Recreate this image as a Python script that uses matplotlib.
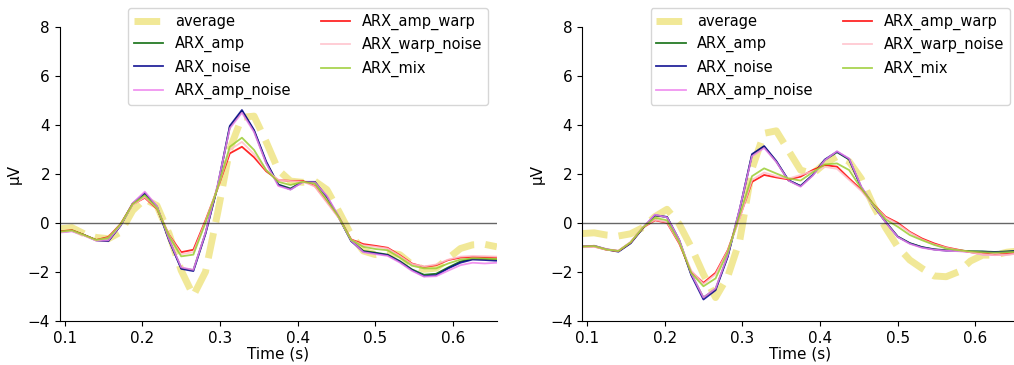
import numpy as np
import matplotlib
matplotlib.use('Agg')
import matplotlib.pyplot as plt

# sample times (64 Hz grid)
t = np.arange(6, 43) / 64

names = ['average', 'ARX_amp', 'ARX_noise', 'ARX_amp_noise',
         'ARX_amp_warp', 'ARX_warp_noise', 'ARX_mix']
colors = ['khaki', 'darkgreen', 'darkblue', 'violet', 'red', 'pink', 'yellowgreen']

# left panel
left_average = [-0.25, -0.2, -0.45, -0.6, -0.65, -0.38, 0.5, 0.97, 0.7, -0.45, -1.95, -2.97,
                -2.0, 0.4, 3.0, 4.3, 4.35, 3.3, 2.15, 1.7, 1.65, 1.7, 1.35, 0.45, -0.5, -1.15,
                -1.3, -1.22, -1.3, -1.7, -1.9, -1.85, -1.45, -1.05, -0.9, -0.88, -0.98]
left_amp = [-0.37, -0.32, -0.5, -0.71, -0.73, -0.1, 0.78, 1.18, 0.66, -0.7, -1.85, -1.93,
            -0.42, 1.48, 3.9, 4.55, 3.75, 2.45, 1.56, 1.4, 1.67, 1.66, 1.05, 0.2, -0.73, -1.15,
            -1.22, -1.3, -1.56, -1.9, -2.12, -2.08, -1.82, -1.58, -1.47, -1.48, -1.5]
left_noise = [-0.38, -0.33, -0.5, -0.72, -0.75, -0.12, 0.78, 1.22, 0.65, -0.72, -1.88, -1.97,
              -0.45, 1.5, 3.95, 4.6, 3.78, 2.5, 1.54, 1.36, 1.67, 1.67, 1.06, 0.2, -0.75, -1.18,
              -1.25, -1.32, -1.59, -1.93, -2.18, -2.14, -1.86, -1.63, -1.5, -1.52, -1.55]
left_amp_noise = [-0.4, -0.35, -0.52, -0.73, -0.72, -0.1, 0.8, 1.27, 0.68, -0.68, -1.82, -1.92,
                  -0.4, 1.55, 3.85, 4.49, 3.7, 2.42, 1.5, 1.35, 1.65, 1.65, 1.1, 0.25, -0.72, -1.2,
                  -1.28, -1.35, -1.62, -1.96, -2.2, -2.18, -1.95, -1.73, -1.63, -1.66, -1.63]
left_amp_warp = [-0.35, -0.3, -0.5, -0.7, -0.58, -0.05, 0.75, 1.02, 0.57, -0.5, -1.2, -1.1,
                 0.1, 1.4, 2.83, 3.1, 2.67, 2.1, 1.74, 1.71, 1.71, 1.5, 0.86, 0.2, -0.68, -0.87,
                 -0.94, -1.02, -1.32, -1.66, -1.8, -1.73, -1.52, -1.42, -1.39, -1.4, -1.42]
left_warp_noise = [-0.38, -0.33, -0.52, -0.72, -0.62, -0.08, 0.73, 1.05, 0.6, -0.52, -1.28, -1.2,
                   0.05, 1.42, 2.97, 3.3, 2.8, 2.15, 1.75, 1.7, 1.68, 1.48, 0.82, 0.18, -0.7, -0.92,
                   -0.98, -1.05, -1.35, -1.68, -1.78, -1.7, -1.5, -1.38, -1.35, -1.36, -1.38]
left_mix = [-0.36, -0.31, -0.5, -0.7, -0.62, -0.06, 0.76, 1.12, 0.6, -0.55, -1.37, -1.3,
            0.0, 1.42, 3.1, 3.47, 2.97, 2.15, 1.67, 1.54, 1.67, 1.6, 0.93, 0.22, -0.7, -0.98,
            -1.07, -1.12, -1.42, -1.75, -1.86, -1.86, -1.66, -1.5, -1.45, -1.46, -1.48]

# right panel
right_average = [-0.44, -0.41, -0.5, -0.54, -0.45, -0.2, 0.25, 0.55, -0.05, -1.0, -2.1, -3.05,
                 -2.2, -0.7, 2.2, 3.65, 3.75, 2.95, 2.15, 2.0, 2.42, 2.7, 2.5, 1.8, 0.7, -0.2,
                 -0.98, -1.52, -1.86, -2.17, -2.2, -2.0, -1.56, -1.32, -1.32, -1.2, -1.15]
right_amp = [-0.97, -0.94, -1.08, -1.16, -0.82, -0.22, 0.3, 0.23, -0.7, -2.1, -3.05, -2.7,
             -1.36, 0.56, 2.76, 3.1, 2.5, 1.73, 1.5, 1.94, 2.56, 2.88, 2.58, 1.44, 0.7, 0.04,
             -0.56, -0.83, -0.99, -1.08, -1.12, -1.13, -1.16, -1.17, -1.19, -1.17, -1.14]
right_noise = [-0.98, -0.95, -1.09, -1.18, -0.84, -0.23, 0.31, 0.24, -0.71, -2.14, -3.13, -2.75,
               -1.39, 0.58, 2.8, 3.13, 2.52, 1.74, 1.5, 1.95, 2.58, 2.9, 2.6, 1.45, 0.7, 0.04,
               -0.57, -0.84, -1.0, -1.09, -1.14, -1.14, -1.18, -1.18, -1.2, -1.18, -1.15]
right_amp_noise = [-0.96, -0.94, -1.07, -1.15, -0.8, -0.2, 0.33, 0.22, -0.68, -2.08, -3.05, -2.68,
                   -1.33, 0.6, 2.72, 3.05, 2.48, 1.72, 1.47, 1.92, 2.55, 2.92, 2.62, 1.48, 0.72, 0.02,
                   -0.58, -0.86, -1.02, -1.1, -1.14, -1.16, -1.2, -1.3, -1.32, -1.3, -1.25]
right_amp_warp = [-0.98, -0.97, -1.1, -1.15, -0.8, -0.2, 0.1, 0.0, -0.84, -2.0, -2.45, -2.04,
                  -1.12, 0.24, 1.67, 1.95, 1.85, 1.77, 1.88, 2.15, 2.35, 2.29, 1.81, 1.35, 0.75, 0.25,
                  0.0, -0.37, -0.64, -0.84, -1.0, -1.1, -1.2, -1.25, -1.3, -1.27, -1.22]
right_warp_noise = [-1.0, -0.98, -1.1, -1.14, -0.78, -0.18, 0.12, 0.02, -0.8, -1.95, -2.5, -2.1,
                    -1.15, 0.2, 1.75, 2.05, 1.9, 1.8, 1.95, 2.1, 2.28, 2.2, 1.75, 1.3, 0.72, 0.22,
                    -0.05, -0.4, -0.68, -0.88, -1.02, -1.12, -1.2, -1.28, -1.32, -1.3, -1.25]
right_mix = [-0.97, -0.95, -1.09, -1.15, -0.8, -0.2, 0.2, 0.1, -0.78, -2.05, -2.59, -2.27,
             -1.2, 0.35, 1.9, 2.22, 2.01, 1.81, 1.72, 2.06, 2.38, 2.42, 2.15, 1.4, 0.75, 0.14,
             -0.16, -0.5, -0.71, -0.9, -1.05, -1.12, -1.17, -1.2, -1.22, -1.2, -1.18]

left = [left_average, left_amp, left_noise, left_amp_noise, left_amp_warp, left_warp_noise, left_mix]
right = [right_average, right_amp, right_noise, right_amp_noise, right_amp_warp, right_warp_noise, right_mix]

plt.rcParams['font.size'] = 11

fig = plt.figure(figsize=(10.14, 3.65), dpi=100)
ax1 = fig.add_axes([0.059, 0.121, 0.431, 0.806])
ax2 = fig.add_axes([0.574, 0.121, 0.431, 0.806])

for ax, series in ((ax1, left), (ax2, right)):
    ax.plot(t, series[0], color=colors[0], lw=5, ls='--', alpha=0.9, label=names[0])
    for name, col, vals in zip(names[1:], colors[1:], series[1:]):
        ax.plot(t, vals, color=col, lw=1.3, alpha=0.85, label=name)
    ax.axhline(0, color='k', lw=1, alpha=0.6)
    ax.set_xlim(t[0], t[-1])
    ax.set_ylim(-4, 8)
    ax.set_yticks([-4, -2, 0, 2, 4, 6, 8])
    ax.set_xticks([0.1, 0.2, 0.3, 0.4, 0.5, 0.6])
    ax.set_xlabel('Time (s)', labelpad=1)
    ax.set_ylabel('μV')
    ax.spines['top'].set_visible(False)
    ax.spines['right'].set_visible(False)
    ax.legend(ncol=2, loc='upper right', bbox_to_anchor=(0.979, 1.064),
              borderaxespad=0, fontsize=10.5)

fig.savefig('out.png', dpi=100)
